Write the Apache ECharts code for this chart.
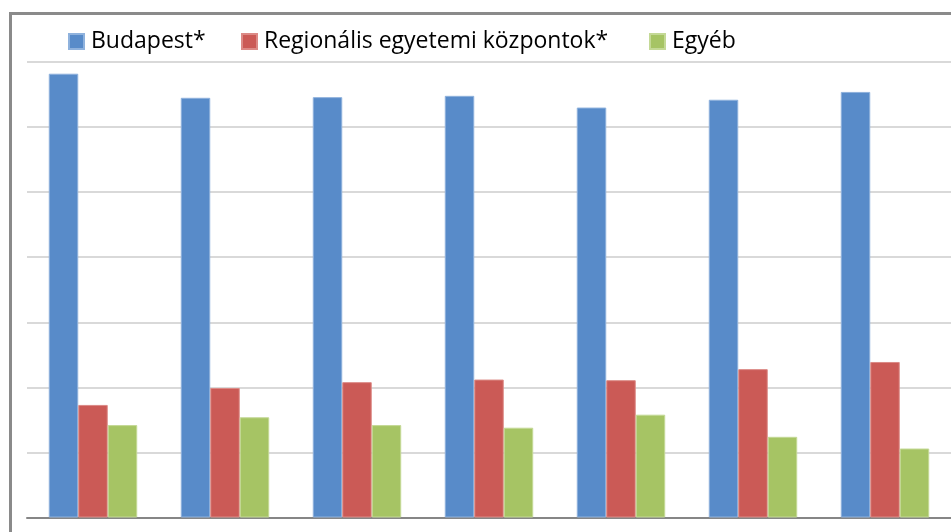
<!DOCTYPE html>
<html>
<head>
<meta charset="utf-8">
<script src="https://cdn.jsdelivr.net/npm/echarts@6/dist/echarts.min.js"></script>
<style>
html,body{margin:0;padding:0;background:#fff;}
#main{width:951px;height:532px;}
</style>
</head>
<body>
<div id="main"></div>
<script>
// adatok (%)
var categories = ['1', '2', '3', '4', '5', '6', '7'];
var budapest = [68.2, 64.5, 64.6, 64.8, 63.0, 64.2, 65.4];
var regionalis = [17.3, 19.9, 20.8, 21.2, 21.1, 22.8, 23.9];
var egyeb = [14.2, 15.4, 14.2, 13.8, 15.8, 12.4, 10.6];
var seriesNames = ['Budapest*', 'Regionális egyetemi központok*', 'Egyéb'];

var colors = ['#588BC9', '#CB5A56', '#A6C464'];
var legendLeft = [68, 241, 649];

var chart = echarts.init(document.getElementById('main'));

// minden jelmagyarázat külön, hogy a helye pontos legyen
var legends = seriesNames.map(function(n, i){
    return {
        data: [n],
        left: legendLeft[i],
        top: 30,
        padding: 0,
        itemWidth: 15,
        itemHeight: 15,
        icon: 'rect',
        textStyle: {
            fontFamily: 'Open Sans',
            fontSize: 23,
            lineHeight: 23,
            color: '#000',
            padding: [0, 0, 0, 2]
        }
    };
});

chart.setOption({
    animation: false,
    color: colors,
    legend: legends,
    grid: {
        left: 27,
        right: 0,
        top: 62,
        bottom: 14.5
    },
    xAxis: {
        type: 'category',
        data: categories,
        axisLine: {show: true, lineStyle: {color: '#868686', width: 2}},
        axisTick: {show: false},
        axisLabel: {show: false}
    },
    yAxis: {
        type: 'value',
        min: 0,
        max: 70,
        interval: 10,
        axisLine: {show: false},
        axisTick: {show: false},
        axisLabel: {show: false},
        splitLine: {lineStyle: {color: '#d9d9d9', width: 2}}
    },
    graphic: [{
        type: 'rect',
        shape: {x: 10.5, y: 13.5, width: 1000, height: 600},
        style: {fill: null, stroke: '#8a8a8a', lineWidth: 3},
        silent: true
    }],
    series: [
        {name: seriesNames[0], type: 'bar', data: budapest, barGap: '0%', barCategoryGap: '33%',
         itemStyle: {borderColor: '#8fb2dd', borderWidth: 1}},
        {name: seriesNames[1], type: 'bar', data: regionalis, barGap: '0%', barCategoryGap: '33%',
         itemStyle: {borderColor: '#dc8a86', borderWidth: 1}},
        {name: seriesNames[2], type: 'bar', data: egyeb, barGap: '0%', barCategoryGap: '33%',
         itemStyle: {borderColor: '#c4d996', borderWidth: 1}}
    ]
});

window.onresize = function(){
    chart.resize();
}
</script>
</body>
</html>
